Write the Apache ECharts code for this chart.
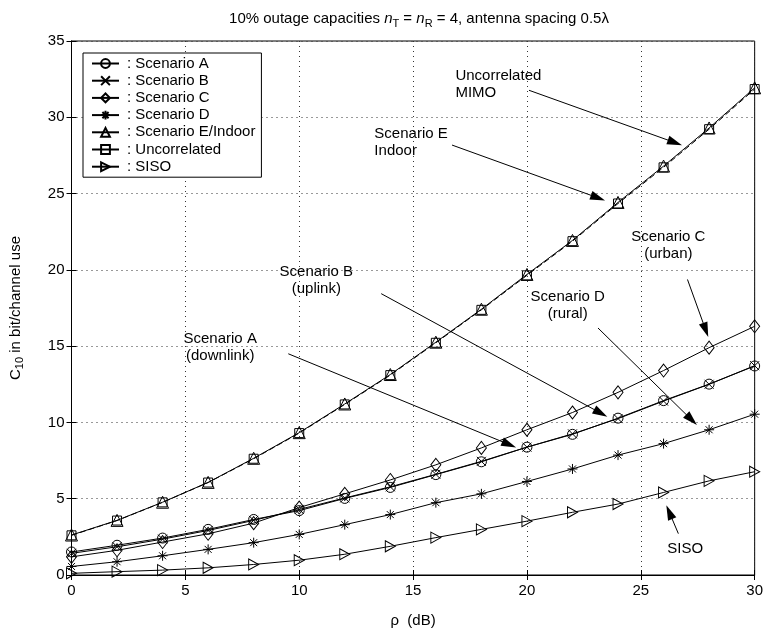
<!DOCTYPE html>
<html lang="en">
<head>
    <meta charset="UTF-8">
    <title>10% outage capacities</title>
    <style>
        html, body, #main {
            width: 100%;
            height: 100%;
            margin: 0;
            padding: 0;
            background: #fff;
        }
    </style>
    <script src="https://cdn.jsdelivr.net/npm/echarts@6/dist/echarts.min.js"></script>
</head>
<body>
    <div id="main"></div>
    <script>
        // SNR in dB
        const rho = [0, 2, 4, 6, 8, 10, 12, 14, 16, 18, 20, 22, 24, 26, 28, 30];

        // 10% outage capacity, bit/channel use
        const scenA = [1.51, 1.95, 2.42, 2.99, 3.64, 4.22, 5.02, 5.74, 6.58, 7.42, 8.38, 9.22, 10.28, 11.43, 12.51, 13.70];
        const scenB = [1.42, 1.85, 2.35, 2.92, 3.58, 4.30, 5.05, 5.78, 6.60, 7.45, 8.38, 9.25, 10.25, 11.40, 12.50, 13.72];
        const scenC = [1.19, 1.62, 2.16, 2.70, 3.40, 4.42, 5.32, 6.23, 7.22, 8.33, 9.52, 10.65, 11.97, 13.40, 14.90, 16.30];
        const scenD = [0.56, 0.87, 1.26, 1.68, 2.12, 2.66, 3.30, 3.96, 4.74, 5.32, 6.13, 6.95, 7.86, 8.61, 9.52, 10.54];
        const scenE = [2.62, 3.58, 4.77, 6.07, 7.65, 9.33, 11.21, 13.14, 15.26, 17.42, 19.70, 21.93, 24.42, 26.80, 29.30, 31.93];
        const uncorr = [2.60, 3.57, 4.76, 6.06, 7.62, 9.30, 11.18, 13.10, 15.22, 17.38, 19.64, 21.88, 24.35, 26.72, 29.22, 31.85];
        const siso = [0.11, 0.22, 0.32, 0.47, 0.69, 0.97, 1.36, 1.88, 2.45, 2.99, 3.53, 4.11, 4.65, 5.41, 6.17, 6.77];

        const xTicks = [0, 5, 10, 15, 20, 25, 30];
        const yTicks = [0, 5, 10, 15, 20, 25, 30, 35];

        // annotation texts, where they sit and where their arrows go (data units)
        const noteText = ['Uncorrelated\nMIMO', 'Scenario E\nIndoor', 'Scenario C\n(urban)', 'Scenario B\n(uplink)',
            'Scenario D\n(rural)', 'Scenario A\n(downlink)', 'SISO'];
        const noteAt = [[16.86, 32.14], [13.30, 28.38], [26.21, 21.62], [10.75, 19.29], [21.79, 17.66], [6.53, 14.94], [26.95, 1.69]];
        const noteAlign = ['left', 'left', 'center', 'center', 'center', 'center', 'center'];
        const arrowFrom = [[20.09, 31.77], [16.71, 28.18], [27.05, 19.37], [13.60, 18.44], [23.12, 16.19], [9.52, 14.50], [26.65, 2.71]];
        const arrowTo = [[26.50, 28.34], [23.12, 24.72], [27.85, 16.06], [23.24, 10.61], [27.23, 10.17], [19.22, 8.55], [26.25, 4.12]];

        const FONT = '"Liberation Sans", Arial, sans-serif';

        const xMark = 'path://M0,0L10,10M10,0L0,10';
        const starMark = 'path://M5,0L5,10M0,5L10,5M1.5,1.5L8.5,8.5M8.5,1.5L1.5,8.5';
        const rightTri = 'path://M0,0L10,5L0,10Z';

        function pairs(ys) {
            return rho.map((x, i) => [x, ys[i]]);
        }

        function lineSeries(name, ys, symbol, size, dashed) {
            return {
                name: name,
                type: 'line',
                data: pairs(ys),
                symbol: symbol,
                symbolSize: size,
                showAllSymbol: true,
                lineStyle: { color: '#000', width: 1, type: dashed ? [6, 3] : 'solid' },
                itemStyle: { color: 'rgba(0,0,0,0)', borderColor: '#000', borderWidth: 1 },
                emphasis: { disabled: true },
                z: 3
            };
        }

        const chart = echarts.init(document.getElementById('main'));

        const series = [
            lineSeries('Scenario A', scenA, 'circle', 10),
            lineSeries('Scenario B', scenB, xMark, 9),
            lineSeries('Scenario C', scenC, 'diamond', [10, 13]),
            lineSeries('Scenario D', scenD, starMark, 10),
            lineSeries('Scenario E/Indoor', scenE, 'triangle', 12),
            lineSeries('Uncorrelated', uncorr, 'rect', 9, true),
            lineSeries('SISO', siso, rightTri, [10, 11])
        ];

        // arrows and their labels
        series.push({
            name: 'notes',
            type: 'scatter',
            data: [],
            silent: true,
            markLine: {
                silent: true,
                animation: false,
                symbol: ['none', 'triangle'],
                symbolSize: [0, 12],
                lineStyle: { color: '#000', width: 1, type: 'solid' },
                label: { show: false },
                data: arrowFrom.map((p, i) => [
                    { coord: p },
                    { coord: arrowTo[i], symbol: 'triangle', symbolSize: [9, 15], itemStyle: { color: '#000' } }
                ])
            },
            markPoint: {
                silent: true,
                animation: false,
                symbol: 'circle',
                symbolSize: 0,
                label: {
                    show: true,
                    position: 'inside',
                    color: '#000',
                    fontFamily: FONT,
                    fontSize: 15,
                    lineHeight: 17
                },
                data: noteAt.map((p, i) => ({
                    coord: p,
                    value: 0,
                    label: { formatter: noteText[i], align: noteAlign[i] }
                }))
            }
        });

        const option = {
            animation: false,
            backgroundColor: '#fff',
            textStyle: { fontFamily: FONT },
            title: {
                text: '10% outage capacities {i|n}{s|T} = {i|n}{s|R} = 4, antenna spacing 0.5λ',
                left: 414,
                textAlign: 'center',
                top: 4,
                textStyle: {
                    fontFamily: FONT,
                    fontSize: 15,
                    fontWeight: 'normal',
                    color: '#000',
                    rich: {
                        i: { fontFamily: FONT, fontSize: 15, fontStyle: 'italic', color: '#000' },
                        s: { fontFamily: FONT, fontSize: 11, color: '#000', padding: [9, 0, 0, 0] }
                    }
                }
            },
            grid: {
                left: 71,
                right: 9,
                top: 41,
                bottom: 53,
                show: true,
                borderColor: '#000',
                borderWidth: 1,
                backgroundColor: 'rgba(0,0,0,0)'
            },
            legend: {
                data: series.slice(0, 7).map(s => s.name === 'Uncorrelated'
                    ? { name: s.name, lineStyle: { type: 'solid' } } : s.name),
                orient: 'vertical',
                left: 83,
                top: 53,
                backgroundColor: '#fff',
                borderColor: '#000',
                borderWidth: 1,
                borderRadius: 0,
                padding: [3, 6, 3, 8],
                itemWidth: 27,
                itemHeight: 11,
                itemGap: 2.2,
                selectedMode: false,
                formatter: name => ': ' + name,
                textStyle: { fontFamily: FONT, fontSize: 15, color: '#000', lineHeight: 15, padding: [0, 0, 0, 3] }
            },
            xAxis: [{
                type: 'value',
                min: 0,
                max: 30,
                interval: 5,
                name: 'ρ  (dB)',
                nameLocation: 'middle',
                nameGap: 38,
                nameTextStyle: { fontFamily: FONT, fontSize: 15, color: '#000' },
                axisLine: { show: true, lineStyle: { color: '#000', width: 1 } },
                axisTick: { show: true, inside: true, length: 5, lineStyle: { color: '#000' } },
                axisLabel: {
                    margin: 8,
                    fontFamily: FONT,
                    fontSize: 15,
                    color: '#000',
                    formatter: v => xTicks.indexOf(v) >= 0 ? String(v) : ''
                },
                splitLine: { show: true, lineStyle: { color: '#333', width: 1, type: [1, 4] } }
            }, {
                type: 'value',
                position: 'top',
                min: 0,
                max: 30,
                interval: 5,
                axisLine: { show: true, lineStyle: { color: '#000', width: 1 } },
                axisTick: { show: true, inside: true, length: 5, lineStyle: { color: '#000' } },
                axisLabel: { show: false },
                splitLine: { show: false }
            }],
            yAxis: [{
                type: 'value',
                min: 0,
                max: 35,
                interval: 5,
                name: 'C{s|10} in bit/channel use',
                nameLocation: 'middle',
                nameGap: 46,
                nameTextStyle: {
                    fontFamily: FONT,
                    fontSize: 15,
                    color: '#000',
                    rich: {
                        s: { fontFamily: FONT, fontSize: 11, color: '#000', padding: [9, 0, 0, 0] }
                    }
                },
                axisLine: { show: true, lineStyle: { color: '#000', width: 1 } },
                axisTick: { show: true, inside: true, length: 5, lineStyle: { color: '#000' } },
                axisLabel: {
                    margin: 7,
                    fontFamily: FONT,
                    fontSize: 15,
                    color: '#000',
                    formatter: v => yTicks.indexOf(v) >= 0 ? String(v) : ''
                },
                splitLine: { show: true, lineStyle: { color: '#333', width: 1, type: [1, 4] } }
            }, {
                type: 'value',
                position: 'right',
                min: 0,
                max: 35,
                interval: 5,
                axisLine: { show: true, lineStyle: { color: '#000', width: 1 } },
                axisTick: { show: true, inside: true, length: 5, lineStyle: { color: '#000' } },
                axisLabel: { show: false },
                splitLine: { show: false }
            }],
            series: series
        };

        chart.setOption(option);
    </script>
</body>
</html>
